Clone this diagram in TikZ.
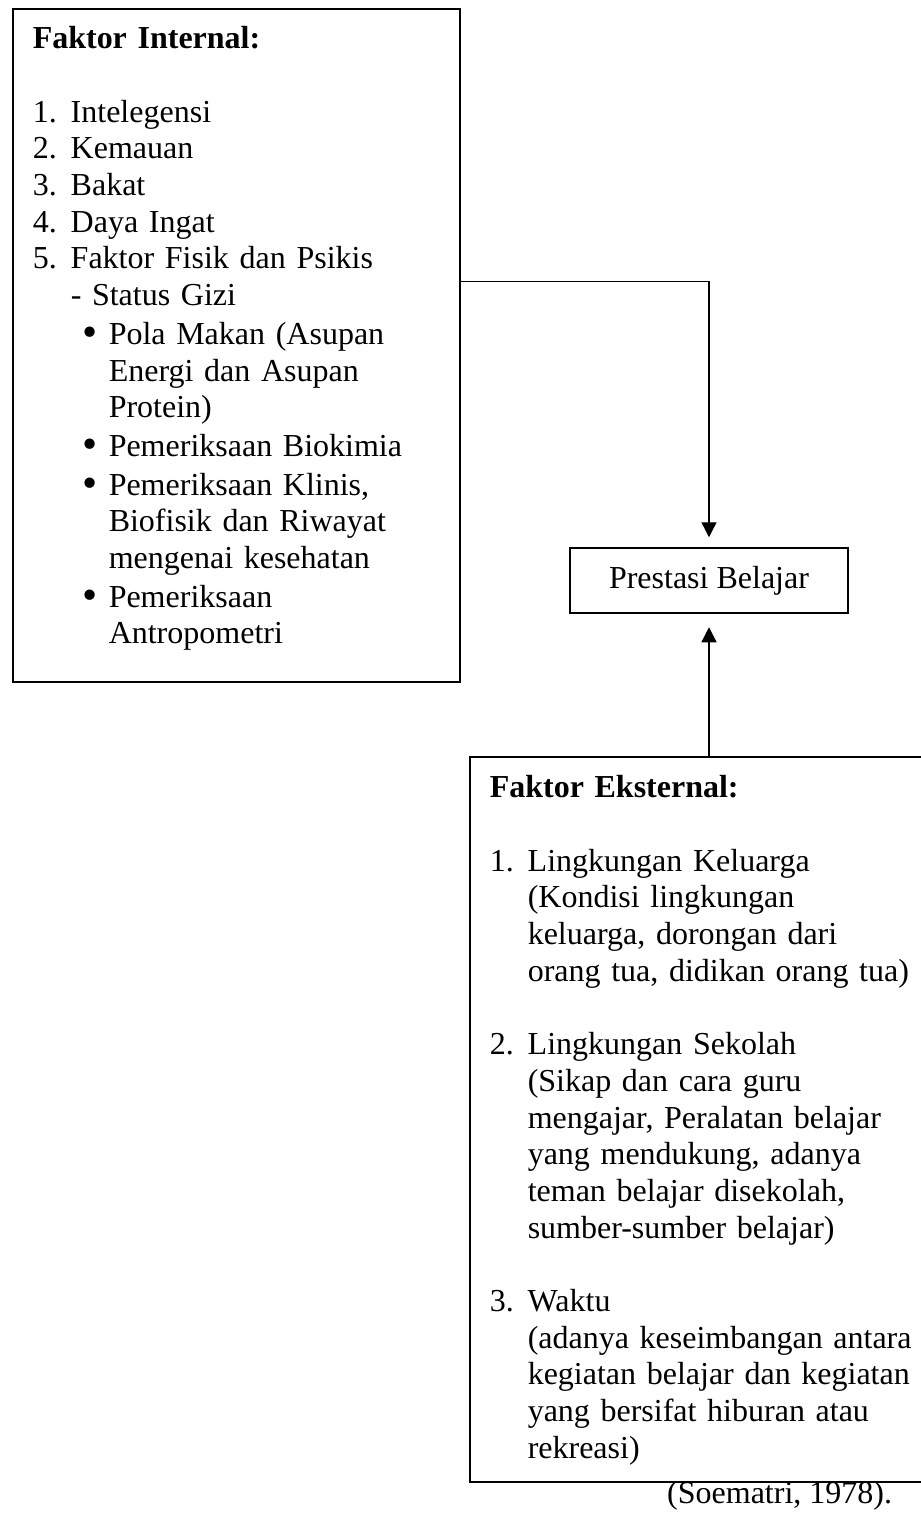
\documentclass[tikz,border=0pt]{standalone}
\usepackage{fontspec}
\setmainfont{Liberation Serif}
\usetikzlibrary{arrows.meta, positioning, calc}

% list helpers
\newcommand{\lnum}[1]{\makebox[38pt][l]{#1}}
\newcommand{\lcont}{\hspace*{38pt}}
\newcommand{\lbul}{\hspace*{50pt}\makebox[26pt][l]{\smash{\raisebox{-2.5pt}{\scalebox{1.35}{\textbullet}}}}}
\newcommand{\lbulcont}{\hspace*{76pt}}

\begin{document}
\begin{tikzpicture}[
      x=1pt, y=-1pt,
      txt/.style={font=\fontsize{32}{36.7}\selectfont},
      panel/.style={draw, line width=1.5pt, txt, anchor=north west, align=left,
                    inner xsep=20pt, text height=22pt},
      arr/.style={-{Triangle[length=15pt, width=15pt]}, line width=1.3pt}
    ]
    \useasboundingbox (0,0) rectangle (921,1516);

    \node[panel, inner ysep=18pt, text width=407pt, text depth=615pt] (internal) at (12,8) {%
      \textbf{Faktor Internal:}\\[36.7pt]
      \lnum{1.}Intelegensi\\
      \lnum{2.}Kemauan\\
      \lnum{3.}Bakat\\
      \lnum{4.}Daya Ingat\\
      \lnum{5.}Faktor Fisik dan Psikis\\
      \lcont- Status Gizi\\[2pt]
      \lbul Pola Makan (Asupan\\
      \lbulcont Energi dan Asupan\\
      \lbulcont Protein)\\[2pt]
      \lbul Pemeriksaan Biokimia\\[2pt]
      \lbul Pemeriksaan Klinis,\\
      \lbulcont Biofisik dan Riwayat\\
      \lbulcont mengenai kesehatan\\[2pt]
      \lbul Pemeriksaan\\
      \lbulcont Antropometri};

    \node[draw, line width=1.5pt, txt, minimum width=278pt, minimum height=65pt] (prestasi) at (709,580.5) {Prestasi Belajar};

    \node[panel, inner ysep=19pt, text width=426pt, text depth=665pt] (external) at (469,756) {%
      \textbf{Faktor Eksternal:}\\[36.7pt]
      \lnum{1.}Lingkungan Keluarga\\
      \lcont(Kondisi lingkungan\\
      \lcont keluarga, dorongan dari\\
      \lcont orang tua, didikan orang tua)\\[36.7pt]
      \lnum{2.}Lingkungan Sekolah\\
      \lcont(Sikap dan cara guru\\
      \lcont mengajar, Peralatan belajar\\
      \lcont yang mendukung, adanya\\
      \lcont teman belajar disekolah,\\
      \lcont sumber-sumber belajar)\\[36.7pt]
      \lnum{3.}Waktu\\
      \lcont(adanya keseimbangan antara\\
      \lcont kegiatan belajar dan kegiatan\\
      \lcont yang bersifat hiburan atau\\
      \lcont rekreasi)};

    \node[txt, anchor=base west, inner sep=0pt] (source) at (667,1503) {(Soematri, 1978).};

    \draw[arr, shorten >=10pt] ([yshift=63.5pt]internal.east) -| (prestasi.north);
    \draw[arr, shorten >=13.5pt] (prestasi.south |- external.north) -- (prestasi.south);
  \end{tikzpicture}
\end{document}
